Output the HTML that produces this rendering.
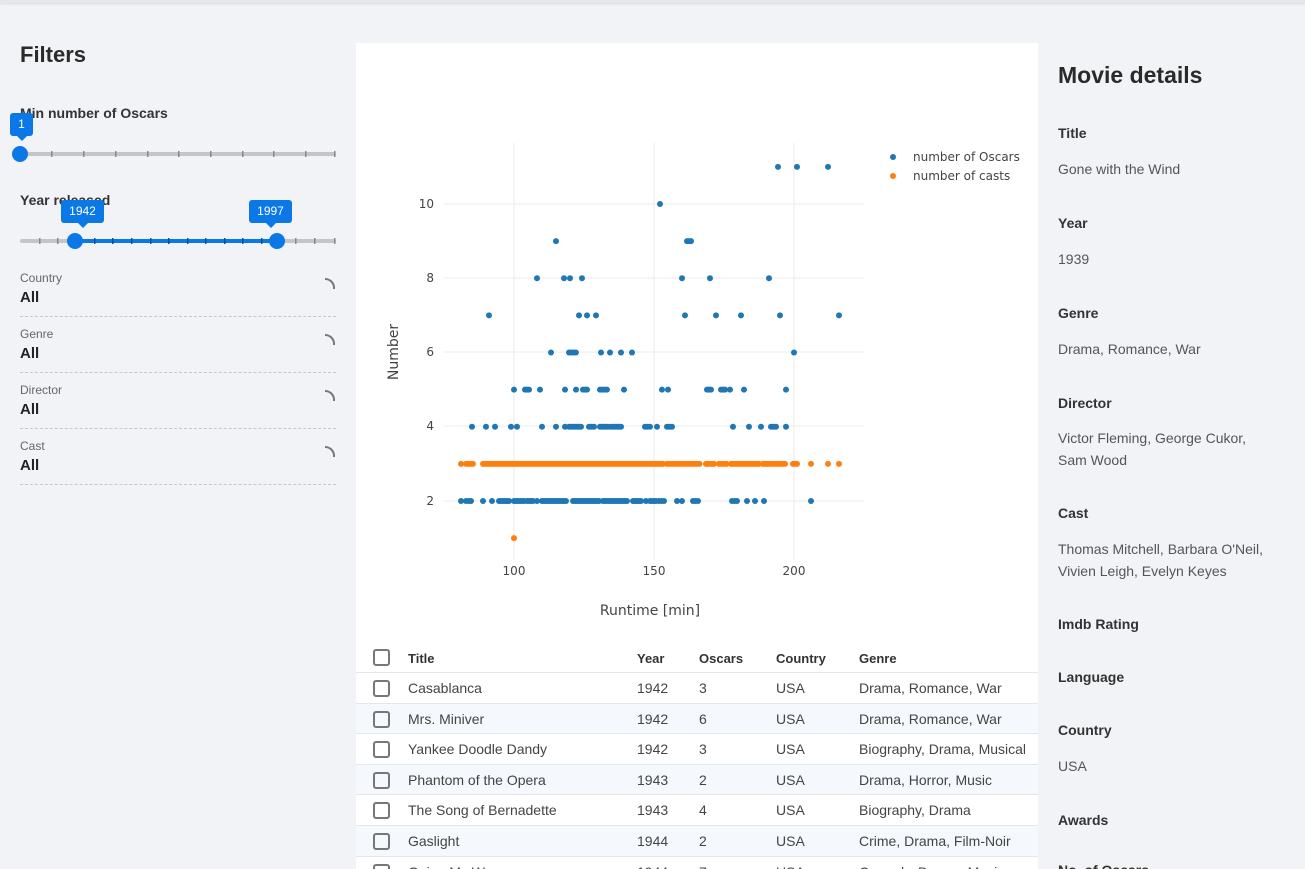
<!DOCTYPE html>
<html><head><meta charset="utf-8">
<style>
*{box-sizing:border-box;margin:0;padding:0}
html{width:1305px;height:869px;overflow:hidden}
body{width:1305px;height:869px;overflow:hidden;background:#f2f3f7;font-family:"Liberation Sans",sans-serif;color:#333;position:relative}
.a{position:absolute;white-space:nowrap}
.topbar{position:absolute;left:0;top:0;width:1305px;height:3px;background:#e6e7ea;box-shadow:0 1px 2px rgba(0,0,0,.1)}
.panel{position:absolute;left:356px;top:43px;width:682px;height:826px;background:#fff}
.lbl{font-size:14px;font-weight:bold;color:#333}
.val{font-size:14px;color:#555;line-height:21.5px}
.dd-l{font-size:12px;color:#666}
.dd-v{font-size:15px;font-weight:bold;color:#222}
.dash{position:absolute;left:20px;width:316px;border-top:1px dashed #c8c8c8}
.tip{position:absolute;background:#0a78e6;color:#fff;font-size:12px;border-radius:3px;text-align:center;line-height:23px;height:23px}
.tip:after{content:"";position:absolute;left:50%;bottom:-5px;margin-left:-5px;border-left:5px solid transparent;border-right:5px solid transparent;border-top:5px solid #0a78e6}
.row{position:absolute;left:356px;width:682px;height:30.6px;border-bottom:1px solid #e3e6ea;font-size:14px;color:#444}
.row span{position:absolute;top:7px;white-space:nowrap}
.cb{position:absolute;left:17px;top:7px;width:17px;height:17px;border:2px solid #777;border-radius:3px}
</style></head><body>
<div class="topbar"></div>

<div class="a" style="left:20px;top:42px;font-size:22px;font-weight:bold;color:#2a2a2a">Filters</div>
<div class="a lbl" style="left:20px;top:105px">Min number of Oscars</div>
<svg class="a" style="left:0;top:130px" width="356" height="130">
 <rect x="20" y="22" width="316" height="4" rx="2" fill="#c4c5c9"/>
 <g fill="#888"><rect x="51" y="21" width="1.5" height="6"/><rect x="83" y="21" width="1.5" height="6"/><rect x="115" y="21" width="1.5" height="6"/><rect x="147" y="21" width="1.5" height="6"/><rect x="178" y="21" width="1.5" height="6"/><rect x="210" y="21" width="1.5" height="6"/><rect x="242" y="21" width="1.5" height="6"/><rect x="273" y="21" width="1.5" height="6"/><rect x="305" y="21" width="1.5" height="6"/><rect x="334" y="21" width="1.5" height="6"/></g>
 <circle cx="20" cy="24" r="8" fill="#0a78e6"/>
 <rect x="20" y="109" width="316" height="4" rx="2" fill="#c4c5c9"/>
 <rect x="75" y="109" width="202" height="4" fill="#0a78e6"/>
 <g fill="#888"><rect x="39" y="108" width="1.5" height="6"/><rect x="57" y="108" width="1.5" height="6"/><rect x="295" y="108" width="1.5" height="6"/><rect x="314" y="108" width="1.5" height="6"/><rect x="334" y="108" width="1.5" height="6"/></g>
 <g fill="#05509e"><rect x="94" y="108" width="1.5" height="6"/><rect x="112" y="108" width="1.5" height="6"/><rect x="131" y="108" width="1.5" height="6"/><rect x="150" y="108" width="1.5" height="6"/><rect x="168" y="108" width="1.5" height="6"/><rect x="187" y="108" width="1.5" height="6"/><rect x="205" y="108" width="1.5" height="6"/><rect x="224" y="108" width="1.5" height="6"/><rect x="242" y="108" width="1.5" height="6"/><rect x="261" y="108" width="1.5" height="6"/></g>
 <circle cx="75" cy="111" r="8" fill="#0a78e6"/><circle cx="277" cy="111" r="8" fill="#0a78e6"/>
</svg>
<div class="tip" style="left:10px;top:113px;width:23px">1</div>
<div class="a lbl" style="left:20px;top:192px">Year released</div>
<div class="tip" style="left:61px;top:200px;width:43px">1942</div>
<div class="tip" style="left:249px;top:200px;width:43px">1997</div>

<div class="a dd-l" style="left:20px;top:271px">Country</div><div class="a dd-v" style="left:20px;top:289px">All</div><div class="dash" style="top:316px"></div>
<div class="a dd-l" style="left:20px;top:327px">Genre</div><div class="a dd-v" style="left:20px;top:345px">All</div><div class="dash" style="top:372px"></div>
<div class="a dd-l" style="left:20px;top:383px">Director</div><div class="a dd-v" style="left:20px;top:401px">All</div><div class="dash" style="top:428px"></div>
<div class="a dd-l" style="left:20px;top:439px">Cast</div><div class="a dd-v" style="left:20px;top:457px">All</div><div class="dash" style="top:484px"></div>
<svg class="a" style="left:320px;top:276px" width="20" height="200" fill="none" stroke="#777" stroke-width="2">
 <path d="M5 3 A9 9 0 0 1 14 13"/><path d="M5 59 A9 9 0 0 1 14 69"/><path d="M5 115 A9 9 0 0 1 14 125"/><path d="M5 171 A9 9 0 0 1 14 181"/>
</svg>

<div class="panel"></div>
<svg id="ch" class="a" style="left:356px;top:43px" width="682" height="590" font-family="DejaVu Sans, sans-serif">
 <g stroke="#ebebeb" stroke-width="1">
  <line x1="88" x2="508" y1="161" y2="161"/><line x1="88" x2="508" y1="235" y2="235"/><line x1="88" x2="508" y1="309" y2="309"/><line x1="88" x2="508" y1="383" y2="383"/><line x1="88" x2="508" y1="458" y2="458"/>
  <line x1="158" x2="158" y1="100" y2="517"/><line x1="298" x2="298" y1="100" y2="517"/><line x1="438" x2="438" y1="100" y2="517"/>
 </g>
 <g font-size="12" fill="#444" text-anchor="end">
  <text x="78" y="165">10</text><text x="78" y="239">8</text><text x="78" y="313">6</text><text x="78" y="387">4</text><text x="78" y="462">2</text>
 </g>
 <g font-size="12" fill="#444" text-anchor="middle">
  <text x="158" y="532">100</text><text x="298" y="532">150</text><text x="438" y="532">200</text>
 </g>
 <text x="294" y="572" font-size="14" fill="#444" text-anchor="middle">Runtime [min]</text>
 <text transform="translate(42,309) rotate(-90)" font-size="14" fill="#444" text-anchor="middle">Number</text>
 <circle cx="537" cy="114" r="3" fill="#1f77b4"/><text x="557" y="118" font-size="12" fill="#444">number of Oscars</text>
 <circle cx="537" cy="133" r="3" fill="#ff7f0e"/><text x="557" y="137" font-size="12" fill="#444">number of casts</text>
 <g id="pts"></g>
</svg>

<div class="row" style="top:642px;height:31px;font-weight:bold;font-size:13px;color:#333"><div class="cb" style="top:7px"></div><span style="left:52px;top:9px">Title</span><span style="left:281px;top:9px">Year</span><span style="left:343px;top:9px">Oscars</span><span style="left:420px;top:9px">Country</span><span style="left:503px;top:9px">Genre</span></div>
<div class="row" style="top:673px"><div class="cb"></div><span style="left:52px">Casablanca</span><span style="left:281px">1942</span><span style="left:343px">3</span><span style="left:420px">USA</span><span style="left:503px">Drama, Romance, War</span></div>
<div class="row" style="top:703.6px;background:#f5f8fc"><div class="cb"></div><span style="left:52px">Mrs. Miniver</span><span style="left:281px">1942</span><span style="left:343px">6</span><span style="left:420px">USA</span><span style="left:503px">Drama, Romance, War</span></div>
<div class="row" style="top:734.2px"><div class="cb"></div><span style="left:52px">Yankee Doodle Dandy</span><span style="left:281px">1942</span><span style="left:343px">3</span><span style="left:420px">USA</span><span style="left:503px">Biography, Drama, Musical</span></div>
<div class="row" style="top:764.8px;background:#f5f8fc"><div class="cb"></div><span style="left:52px">Phantom of the Opera</span><span style="left:281px">1943</span><span style="left:343px">2</span><span style="left:420px">USA</span><span style="left:503px">Drama, Horror, Music</span></div>
<div class="row" style="top:795.4px"><div class="cb"></div><span style="left:52px">The Song of Bernadette</span><span style="left:281px">1943</span><span style="left:343px">4</span><span style="left:420px">USA</span><span style="left:503px">Biography, Drama</span></div>
<div class="row" style="top:826px;background:#f5f8fc"><div class="cb"></div><span style="left:52px">Gaslight</span><span style="left:281px">1944</span><span style="left:343px">2</span><span style="left:420px">USA</span><span style="left:503px">Crime, Drama, Film-Noir</span></div>
<div class="row" style="top:856.6px;height:12.4px;overflow:hidden;border-bottom:none"><div class="cb"></div><span style="left:52px">Going My Way</span><span style="left:281px">1944</span><span style="left:343px">7</span><span style="left:420px">USA</span><span style="left:503px">Comedy, Drama, Music</span></div>

<div class="a" style="left:1058px;top:62px;font-size:23px;font-weight:bold;color:#2a2a2a">Movie details</div>
<div class="a lbl" style="left:1058px;top:125px">Title</div><div class="a val" style="left:1058px;top:159px">Gone with the Wind</div>
<div class="a lbl" style="left:1058px;top:215px">Year</div><div class="a val" style="left:1058px;top:249px">1939</div>
<div class="a lbl" style="left:1058px;top:305px">Genre</div><div class="a val" style="left:1058px;top:339px">Drama, Romance, War</div>
<div class="a lbl" style="left:1058px;top:395px">Director</div><div class="a val" style="left:1058px;top:428px">Victor Fleming, George Cukor,<br>Sam Wood</div>
<div class="a lbl" style="left:1058px;top:505px">Cast</div><div class="a val" style="left:1058px;top:539px">Thomas Mitchell, Barbara O'Neil,<br>Vivien Leigh, Evelyn Keyes</div>
<div class="a lbl" style="left:1058px;top:616px">Imdb Rating</div>
<div class="a lbl" style="left:1058px;top:669px">Language</div>
<div class="a lbl" style="left:1058px;top:722px">Country</div><div class="a val" style="left:1058px;top:756px">USA</div>
<div class="a lbl" style="left:1058px;top:812px">Awards</div>
<div class="a lbl" style="left:1058px;top:862px">No. of Oscars</div>

<script>
var rows={
11:["778","797","828"],
10:["660"],
9:["556","687-691:2"],
8:["537","564","570","582","682","710","769"],
7:["489","579","587","596","685","716","741","780","839"],
6:["551","569-576:2.3","601","610","621","632","794"],
5:["514","525-529:2","540","565","576","583-587:2","600-607:2.3","624","662","668","707-711:2","721-725:2","730","744","786"],
4:["472","486","495","511","517","542","556","565","569-582:2","589-594:2.5","600-608:2","611-622:2","645-650:2.5","657","667-672:2.5","733","749","761","771-776:2.5","786"],
2:["461","466-471:2.5","483","492","499-510:2","514-524:2","527-533:2","537","542-567:2","573-600:2","603-628:2","633-642:2","646","650-656:2","659-664:2.5","677","682","693-698:2.5","732-737:2.5","747","755","764","811"],
3:["461","466-473:2.3","483-497:2","499-533:2","535-663:2","667-700:2.5","706-714:2","719-727:2.5","731-760:2","763-787:2.2","793-797:2","811","828","839"],
1:["514"]};
var s="";
for(var y in rows){var cy=501-(y-2)*37.125-43;var col=(y==3||y==1)?"#ff7f0e":"#1f77b4";
rows[y].forEach(function(t){var m=t.split(":"),st=parseFloat(m[1]||1),r=m[0].split("-"),a=+r[0],b=+(r[1]||r[0]);
for(var x=a;x<=b+0.01;x+=st){s+='<circle cx="'+(x-356)+'" cy="'+cy+'" r="3" fill="'+col+'"/>';}});}
document.getElementById("pts").innerHTML=s;
</script>
</body></html>
